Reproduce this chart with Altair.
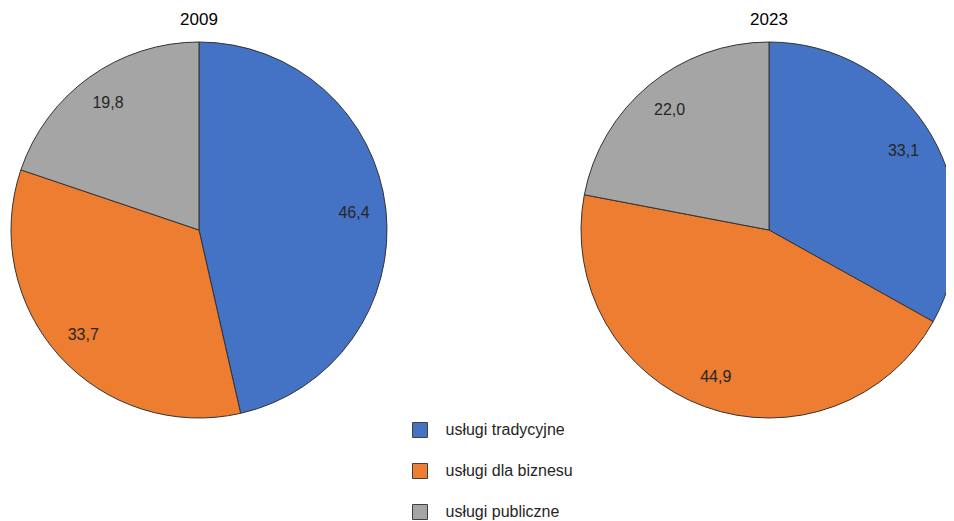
import altair as alt
import pandas as pd

years = ["2009", "2023"]
categories = ["usługi tradycyjne", "usługi dla biznesu", "usługi publiczne"]
values_2009 = [46.4, 33.7, 19.8]
values_2023 = [33.1, 44.9, 22.0]
colors = ["#4472C4", "#ED7D31", "#A5A5A5"]

rows = []
for yr, vals in zip(years, [values_2009, values_2023]):
    for i, (c, v) in enumerate(zip(categories, vals)):
        rows.append({"year": yr, "category": c, "value": v, "order": i,
                     "label": f"{v:.1f}".replace(".", ",")})
df = pd.DataFrame(rows)

W, H = 938, 512
centers = {"2009": (191, 222), "2023": (761, 222)}
R = 188
FONT = "Liberation Sans"

color = alt.Color(
    "category:N",
    scale=alt.Scale(domain=categories, range=colors),
    sort=categories,
    legend=alt.Legend(
        title=None, orient="none", legendX=404, legendY=414,
        symbolType="square", symbolSize=225, symbolStrokeColor="#404040",
        symbolStrokeWidth=1, symbolOpacity=1,
        labelFont=FONT, labelFontSize=16, labelColor="#262626",
        rowPadding=21, labelOffset=17.5, padding=0,
    ),
)


def pie(yr):
    cx, cy = centers[yr]
    base = alt.Chart(df).transform_filter(alt.datum.year == yr).encode(
        theta=alt.Theta("value:Q", stack="normalize"),
        order=alt.Order("order:Q"),
        x=alt.value(cx),
        y=alt.value(cy),
    )
    arcs = base.mark_arc(radius=R, stroke="#333333", strokeWidth=1).encode(color=color)
    text = base.mark_text(radius=156, font=FONT, fontSize=16, color="#262626").encode(
        text="label:N", detail="category:N"
    )
    title = alt.Chart(pd.DataFrame({"year": [yr]})).mark_text(
        font=FONT, fontSize=17, color="#000000", baseline="middle"
    ).encode(text="year:N", x=alt.value(cx), y=alt.value(12))
    return alt.layer(arcs, text, title)


chart = alt.layer(pie("2009"), pie("2023")).properties(
    width=W, height=H, autosize=alt.AutoSizeParams(type="none"), padding=0
).configure_view(stroke=None)

chart.save("out.html", embed_options={"renderer": "svg", "actions": False})
